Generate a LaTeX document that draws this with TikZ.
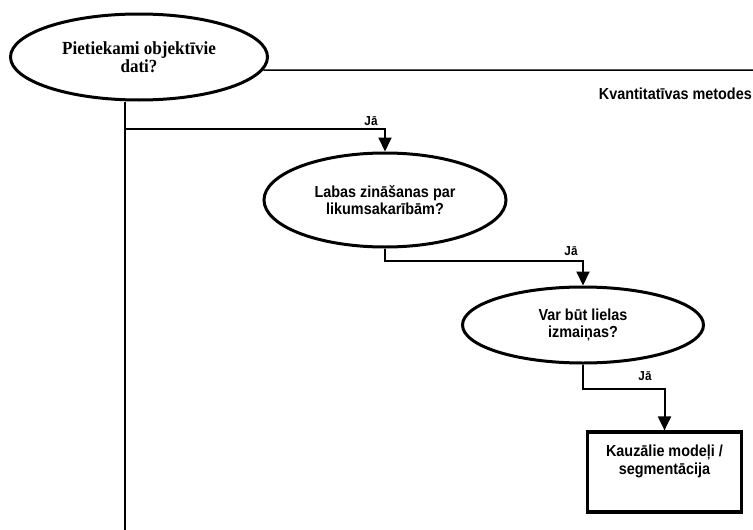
\documentclass[tikz,border=0pt]{standalone}
\usepackage{fontspec}
\setmainfont[FakeStretch=0.92]{Liberation Serif}
\newfontfamily\arialfont[FakeStretch=0.9]{Liberation Sans}
\usetikzlibrary{shapes.geometric,arrows.meta}
\begin{document}
\begin{tikzpicture}[x=1pt,y=-1pt,
  question/.style={ellipse,draw,line width=3pt,inner sep=0pt,align=center,
    font=\arialfont\bfseries\fontsize{16}{16.5}\selectfont},
  conn/.style={line width=2pt},
  arr/.style={conn,-{Triangle[width=13pt,length=14pt]}},
  yes/.style={font=\arialfont\bfseries\fontsize{13}{14}\selectfont,inner sep=0pt},
  kbox/.style={draw,line width=3.2pt,minimum width=154pt,minimum height=80pt,inner sep=0pt},
  boxtext/.style={align=center,inner sep=0pt,font=\arialfont\bfseries\fontsize{16}{18.5}\selectfont}]
\useasboundingbox (0,0) rectangle (753,530);

% decision ellipses
\node[question,minimum width=257pt,minimum height=86pt,
  font=\bfseries\fontsize{18.5}{18.5}\selectfont] (q1) at (139,57)
  {Pietiekami objektīvie\\dati?};
\node[question,minimum width=242pt,minimum height=94pt] (q2) at (385,200)
  {Labas zināšanas par\\likumsakarībām?};
\node[question,minimum width=241pt,minimum height=76pt] (q3) at (583,325)
  {Var būt lielas\\izmaiņas?};

% result box
\node[kbox] (km) at (664.5,472) {};
\node[boxtext,anchor=north] (kmt) at ([yshift=-14pt]km.north)
  {Kauzālie modeļi /\\segmentācija};

% upper branch
\coordinate (rEnd) at (753,70);
\draw[line width=1.5pt] (q1.-6) -- (rEnd);
\node[yes,anchor=east,font=\arialfont\bfseries\fontsize{16}{16}\selectfont] (kv) at (752,94) {Kvantitatīvas metodes};

% main vertical line
\coordinate (vTop) at ([xshift=-14pt]q1.south);
\coordinate (vBot) at (vTop |- 0,530);
\coordinate (j1) at (vTop |- 0,129);
\draw[conn] (vTop) -- (vBot);

% yes-branches
\draw[arr] (j1) -- (q2.north |- j1) -- (q2.north);
\node[yes] (y1) at (371,121) {Jā};

\coordinate (j2) at ([yshift=-12pt]q2.south);
\draw[arr] (q2.south) -- (j2) -- (q3.north |- j2) -- (q3.north);
\node[yes] (y2) at (571,251) {Jā};

\coordinate (j3) at ([yshift=-24pt]q3.south);
\draw[arr] (q3.south) -- (j3) -- (km.north |- j3) -- (km.north);
\node[yes] (y3) at (645,376) {Jā};
\end{tikzpicture}
\end{document}
